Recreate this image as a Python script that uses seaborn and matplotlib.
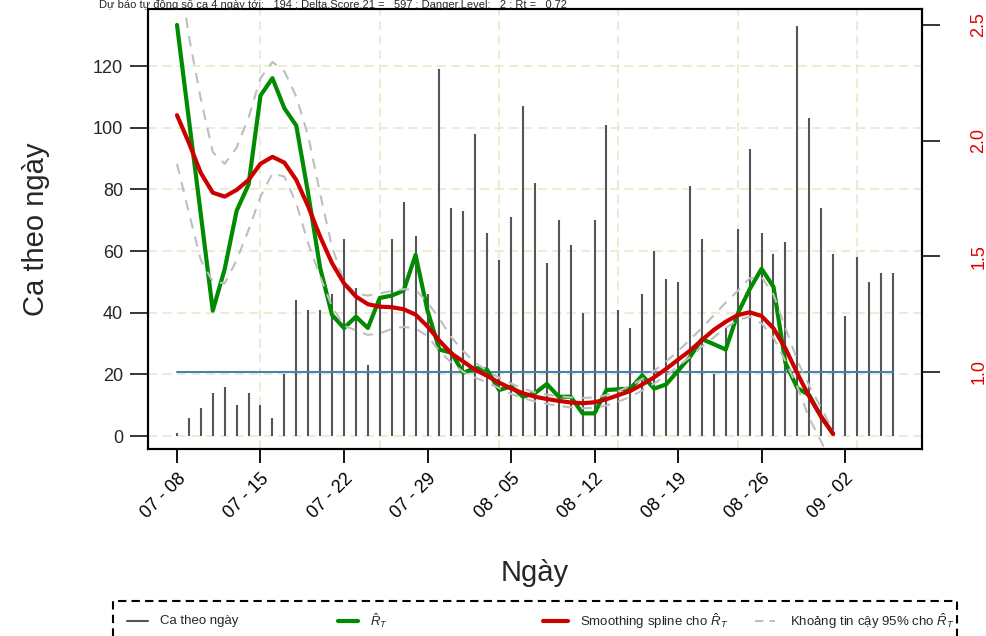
import numpy as np
import pandas as pd
import matplotlib
matplotlib.use("Agg")
import matplotlib.pyplot as plt
import matplotlib.dates as mdates
from matplotlib.lines import Line2D
from matplotlib.patches import Rectangle
from matplotlib.ticker import MultipleLocator, FormatStrFormatter
import seaborn as sns

# ---------------- data ----------------
start_date = "2021-07-08"
daily_cases = [1, 6, 9, 14, 16, 10, 14, 10, 6, 20, 44, 41, 41, 46, 64, 48, 23, 45,
               64, 76, 65, 46, 119, 74, 73, 98, 66, 57, 71, 107, 82, 56, 70, 62, 40,
               70, 101, 41, 35, 46, 60, 51, 50, 81, 64, 20, 35, 67, 93, 66, 59, 63,
               133, 103, 74, 59, 39, 58, 50, 53, 53]
rt_est = [2.50, 2.09, 1.68, 1.265, 1.445, 1.697, 1.81, 2.195, 2.27, 2.14, 2.065,
          1.77, 1.45, 1.246, 1.19, 1.239, 1.19, 1.32, 1.33, 1.352, 1.506, 1.265,
          1.097, 1.083, 0.996, 1.018, 1.009, 0.922, 0.937, 0.893, 0.908, 0.948,
          0.893, 0.893, 0.821, 0.821, 0.922, 0.925, 0.928, 0.985, 0.928, 0.946,
          1.005, 1.065, 1.142, 1.12, 1.097, 1.252, 1.357, 1.446, 1.368, 1.04,
          0.93, 0.90, 0.805, 0.733]
rt_spline = [2.11, 1.99, 1.86, 1.775, 1.758, 1.787, 1.83, 1.90, 1.93, 1.905, 1.83,
             1.715, 1.585, 1.47, 1.383, 1.326, 1.293, 1.282, 1.280, 1.271, 1.248,
             1.197, 1.135, 1.08, 1.045, 1.009, 0.983, 0.954, 0.929, 0.908, 0.893,
             0.883, 0.875, 0.868, 0.865, 0.869, 0.882, 0.900, 0.918, 0.946, 0.977,
             1.013, 1.053, 1.092, 1.138, 1.182, 1.217, 1.246, 1.258, 1.242, 1.189,
             1.102, 0.994, 0.893, 0.807, 0.732]
rt_upper = [2.80, 2.45, 2.18, 1.95, 1.90, 1.97, 2.10, 2.27, 2.34, 2.30, 2.19, 2.02,
            1.77, 1.54, 1.39, 1.34, 1.33, 1.34, 1.35, 1.358, 1.355, 1.30, 1.23,
            1.15, 1.09, 1.04, 1.005, 0.975, 0.95, 0.928, 0.912, 0.902, 0.895, 0.89,
            0.888, 0.89, 0.90, 0.917, 0.94, 0.97, 1.005, 1.045, 1.09, 1.14, 1.19,
            1.245, 1.30, 1.35, 1.405, 1.41, 1.335, 1.19, 1.05, 0.94, 0.845, 0.745]
rt_lower = [1.90, 1.687, 1.484, 1.39, 1.383, 1.484, 1.614, 1.758, 1.859, 1.844,
            1.729, 1.556, 1.412, 1.282, 1.20, 1.18, 1.16, 1.167, 1.186, 1.195,
            1.188, 1.155, 1.09, 1.04, 1.00, 0.975, 0.955, 0.93, 0.905, 0.887, 0.873,
            0.862, 0.853, 0.847, 0.843, 0.845, 0.855, 0.872, 0.893, 0.92, 0.95,
            0.985, 1.025, 1.065, 1.11, 1.15, 1.19, 1.225, 1.239, 1.21, 1.148, 1.047,
            0.936, 0.80, 0.70, 0.58]
rt_threshold = 1.0
tick_labels = ["07 - 08", "07 - 15", "07 - 22", "07 - 29", "08 - 05",
               "08 - 12", "08 - 19", "08 - 26", "09 - 02"]
title_text = ("Dự báo tự động số ca 4 ngày tới:   194 ; Delta.Score.21 =   597 ; "
              "Danger.Level:   2 ; Rt =   0.72")
legend_labels = ["Ca theo ngày", r"$\hat{R}_T$", r"Smoothing spline cho $\hat{R}_T$",
                 r"Khoảng tin cậy 95% cho $\hat{R}_T$"]

# ---------------- style ----------------
sns.set_style("white")
plt.rcParams["font.family"] = ["Liberation Sans", "DejaVu Sans"]
plt.rcParams["mathtext.fontset"] = "custom"
plt.rcParams["mathtext.rm"] = "Liberation Sans"
plt.rcParams["mathtext.it"] = "Liberation Sans:italic"

C_BAR = "#555555"
C_GREEN = "#008B00"
C_RED = "#CD0000"
C_CI = "#BEBEBE"
C_BLUE = "#4682B4"
C_GRID = "#EEE8CD"

dates = pd.date_range(start_date, periods=len(daily_cases), freq="D")
rt_dates = dates[:len(rt_est)]
year = dates[0].year
tick_dates = [pd.Timestamp(f"{year}-" + t.replace(" - ", "-")) for t in tick_labels]

fig = plt.figure(figsize=(9.87, 6.36), dpi=100)
fig.patch.set_facecolor("white")
ax = fig.add_axes([0.14995, 0.29403, 0.78419, 0.69182])
ax.set_facecolor("none")

# grid
for gd in pd.date_range(dates[0] + pd.Timedelta(days=7), dates[-1], freq="10D"):
    ax.axvline(gd, color=C_GRID, lw=1.3, ls=(0, (5, 3)), zorder=0)
ax.yaxis.set_major_locator(MultipleLocator(20))
ax.grid(axis="y", color=C_GRID, lw=1.3, ls=(0, (5, 3)), zorder=0)
ax.grid(axis="x", visible=False)

# daily cases bars
ax.vlines(dates, 0, daily_cases, color=C_BAR, lw=1.5, zorder=2)
ax.set_ylim(-4.2, 138.5)
ax.set_xlim(dates[0] - pd.Timedelta(days=2.43), dates[0] + pd.Timedelta(days=62.45))

# Rt axis
ax2 = ax.twinx()
ax2.plot([dates[0], dates[-1]], [rt_threshold, rt_threshold], color=C_BLUE, lw=1.5)
sns.lineplot(x=rt_dates, y=rt_est, ax=ax2, color=C_GREEN, lw=3.0)
sns.lineplot(x=rt_dates, y=rt_upper, ax=ax2, color=C_CI, lw=1.5, linestyle=(0, (5, 4)))
sns.lineplot(x=rt_dates, y=rt_lower, ax=ax2, color=C_CI, lw=1.5, linestyle=(0, (5, 4)))
sns.lineplot(x=rt_dates, y=rt_spline, ax=ax2, color=C_RED, lw=3.0)
ax2.set_ylim(0.667, 2.569)
ax2.set_xlim(ax.get_xlim())
ax2.yaxis.set_major_locator(MultipleLocator(0.5))
ax2.yaxis.set_major_formatter(FormatStrFormatter("%.1f"))
ax2.set_ylabel("")
ax2.set_xlabel("")

# ticks
ax.set_xticks(tick_dates)
ax.set_xticklabels(tick_labels, rotation=45, ha="right", rotation_mode="anchor")
ax.tick_params(axis="x", length=10, width=1.3, pad=5, labelsize=13, direction="out",
               bottom=True, colors="black")
ax.tick_params(axis="y", length=13, width=1.3, pad=5, labelsize=13, direction="out",
               left=True)
ax2.tick_params(axis="y", length=13, width=1.3, pad=22, labelsize=13, direction="out",
                right=True, labelcolor="#E00000", labelrotation=90)
for lab in ax2.get_yticklabels():
    lab.set_va("center")

for a in (ax, ax2):
    for s in a.spines.values():
        s.set_color("black")
        s.set_linewidth(1.5)

ax.set_ylabel("Ca theo ngày", fontsize=21, labelpad=31)
ax.set_xlabel("Ngày", fontsize=21, labelpad=27)

# title (as in the source, small and hugging the top edge)
fig.text(333 / 987, 1 - 8 / 636, title_text, fontsize=8, ha="center", va="baseline")

# legend drawn manually in figure coordinates
W, H = 987.0, 636.0
box = Rectangle((113 / W, -0.02), (957 - 113) / W, 0.02 + 1 - 601 / H,
                transform=fig.transFigure, fill=False, ec="black", lw=1.5,
                ls=(0, (4, 2.5)))
fig.add_artist(box)
ly = 1 - 621 / H
handles = [((127, 148), dict(color=C_BAR, lw=1.5)),
           ((338, 358), dict(color=C_GREEN, lw=3.0)),
           ((543, 568), dict(color=C_RED, lw=3.0)),
           ((755, 775), dict(color=C_CI, lw=1.5, ls=(0, (4, 3))))]
text_x = [160, 370, 580, 790]
for (x0, x1), kw in handles:
    fig.add_artist(Line2D([x0 / W, x1 / W], [ly, ly], transform=fig.transFigure, **kw))
for tx, lab in zip(text_x, legend_labels):
    fig.text(tx / W, ly, lab, fontsize=9.5, ha="left", va="center")

fig.savefig("out.png", dpi=100, facecolor="white")
